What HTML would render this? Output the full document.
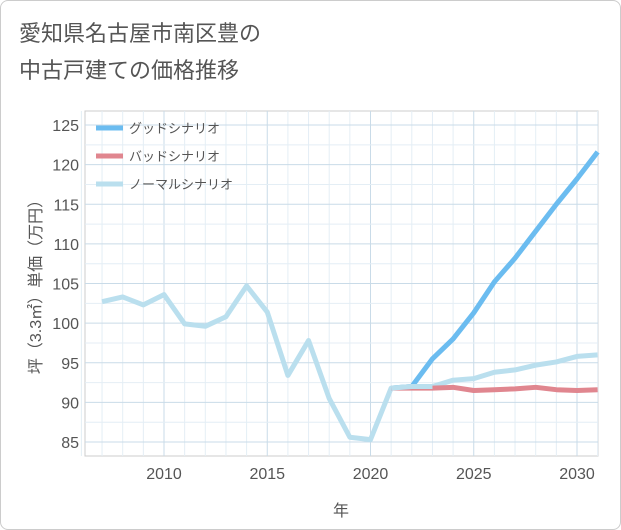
<!DOCTYPE html>
<html><head><meta charset="utf-8"><style>
body{margin:0;background:#fff;font-family:"Liberation Sans","Noto Sans CJK JP",sans-serif;}
#wrap{position:relative;width:619px;height:528px;border:1px solid #ccc;border-radius:8px;overflow:hidden;background:#fff}
</style></head><body>
<div id="wrap">
<svg id="c" width="621" height="530">
<text x="18" y="40" font-size="22" fill="#555">愛知県名古屋市南区豊の</text>
<text x="18" y="77" font-size="22" fill="#555">中古戸建ての価格推移</text>
</svg></div>
<script>
const years=[2007,2008,2009,2010,2011,2012,2013,2014,2015,2016,2017,2018,2019,2020,2021,2022,2023,2024,2025,2026,2027,2028,2029,2030,2031];
const normal=[102.7,103.3,102.3,103.6,99.9,99.6,100.8,104.7,101.4,93.4,97.8,90.5,85.6,85.3,91.8,92.0,92.0,92.8,93.0,93.8,94.1,94.7,95.1,95.8,96.0];
const fYears=[2021,2022,2023,2024,2025,2026,2027,2028,2029,2030,2031];
const good=[91.8,92.0,95.5,98.0,101.3,105.2,108.2,111.6,115.0,118.2,121.6];
const bad=[91.8,91.8,91.8,91.9,91.5,91.6,91.7,91.9,91.6,91.5,91.6];
const yTicks=[85,90,95,100,105,110,115,120,125];
const xTicks=[2010,2015,2020,2025,2030];
const NS='http://www.w3.org/2000/svg',svg=document.getElementById('c');
const L=84,R=597,T=110,B=455;
const X=v=>163+(v-2010)*20.65, Y=v=>441-(v-85)*7.925;
function mk(t,a,p){const e=document.createElementNS(NS,t);for(const k in a)e.setAttribute(k,a[k]);(p||svg).appendChild(e);return e;}
const bg=mk('rect',{x:L,y:T,width:R-L,height:B-T,fill:'#fff',stroke:'#ccc'});


for(let y=2006;y<=2031;y++){const g=mk('line',{x1:X(y),x2:X(y),y1:T,y2:B,stroke:y%5==0?'#c9dbe8':'#e4eef5'});

}
for(let v=85;v<=127;v+=2.5){if(Y(v)<T)continue;const g=mk('line',{x1:L,x2:R,y1:Y(v),y2:Y(v),stroke:v%5==0?'#c9dbe8':'#e4eef5'});

}
yTicks.forEach(v=>{const t=mk('text',{x:78,y:Y(v)+6,'text-anchor':'end','font-size':16,fill:'#555'});t.textContent=v;

});
xTicks.forEach(v=>{const t=mk('text',{x:X(v),y:478,'text-anchor':'middle','font-size':16,fill:'#555'});t.textContent=v;

});
const xt=mk('text',{x:340,y:515,'text-anchor':'middle','font-size':16,fill:'#555'});xt.textContent='年';


const yt=mk('text',{transform:'translate(40,282) rotate(-90)','text-anchor':'middle','font-size':16,fill:'#555'});yt.textContent='坪（3.3㎡）単価（万円）';


function line(xs,vs,col,name){const p=mk('polyline',{points:xs.map((x,i)=>X(x)+','+Y(vs[i])).join(' '),fill:'none',stroke:col,'stroke-width':5,'stroke-linejoin':'round'});

}
line(years,normal,'#badfee','normal-line');
line(fYears,good,'#6bbcf0','good-line');
line(fYears,bad,'#e0868f','bad-line');
line(fYears.slice(0,3),normal.slice(14,17),'#badfee','normal-line-overlap');
const leg=[['グッドシナリオ','#6bbcf0'],['バッドシナリオ','#e0868f'],['ノーマルシナリオ','#badfee']];
leg.forEach((d,i)=>{const y=127+i*28;const l=mk('line',{x1:95,x2:122,y1:y,y2:y,stroke:d[1],'stroke-width':5});


const t=mk('text',{x:128,y:y+5,'font-size':13,fill:'#555'});t.textContent=d[0];

});
</script></body></html>
